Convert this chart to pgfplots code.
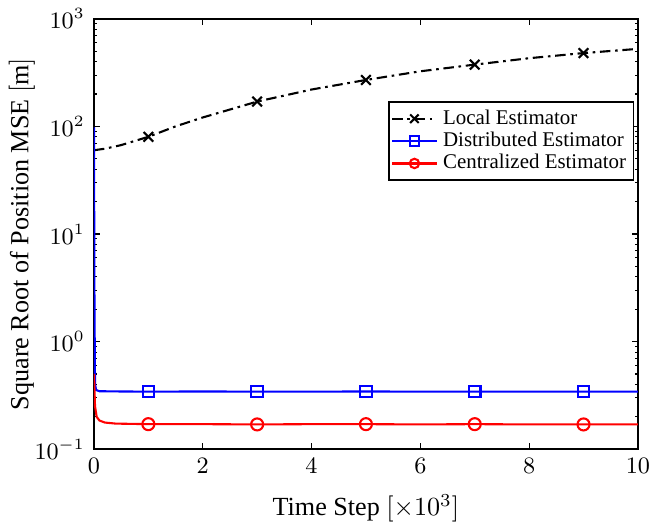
\documentclass[border=0pt]{standalone}
\usepackage{fontspec}
\setmainfont{Liberation Serif}
\usepackage{pgfplots}
\pgfplotsset{compat=1.18}

\pgfplotstableread{
x y
0 60
0.2 62
0.5 67
1 80
1.5 100
2 121
3 170
4 220
5 270
6 325
7 375
8 430
9 480
10 525
}\localdata

\pgfplotstableread{
x y
0 98
0.01 2
0.02 0.40
0.04 0.355
0.1 0.346
0.5 0.344
1 0.343
2 0.344
3 0.343
4 0.343
5 0.344
6 0.343
7 0.343
8 0.343
9 0.343
10 0.343
}\distdata

\pgfplotstableread{
x y
0 0.50
0.02 0.25
0.05 0.20
0.1 0.185
0.2 0.177
0.4 0.173
1 0.171
2 0.171
3 0.170
4 0.171
5 0.171
6 0.170
7 0.171
8 0.170
9 0.170
10 0.170
}\centdata

\begin{document}
\begin{tikzpicture}
\begin{axis}[
    scale only axis,
    width=208pt,
    height=164.6pt,
    ymode=log,
    xmin=0, xmax=10,
    ymin=0.1, ymax=1000,
    xtick={0,2,...,10},
    ytick={0.1,1,10,100,1000},
    tick align=inside,
    major tick length=2.2pt,
    minor tick length=1.3pt,
    axis line style={line width=0.6pt},
    every tick/.style={black, line width=0.4pt},
    tick label style={font=\fontsize{8.6}{10}\selectfont},
    x tick label style={inner xsep=0pt},
    xlabel={Time Step $[\times 10^3]$},
    ylabel={Square Root of Position MSE $[\mathrm{m}]$},
    xlabel style={yshift=-3.5pt, inner ysep=1pt},
    ylabel style={yshift=-7pt},
    legend cell align=left,
    legend style={at={(0.541,0.808)}, anchor=north west, draw=black, line width=0.6pt,
        inner sep=0.8pt, row sep=-2.5pt, font=\fontsize{8}{9.5}\selectfont},
]
\addplot[black, line width=0.8pt, dash pattern=on 4pt off 1.8pt on 1pt off 1.8pt,
    mark=x, mark size=2.6pt, mark options={solid, line width=0.8pt},
    mark indices={4,7,9,11,13}, forget plot] table {\localdata};
\addplot[blue, line width=0.8pt, mark=square, mark size=2.2pt,
    mark options={solid, line width=0.8pt},
    mark indices={7,9,11,13,15}, forget plot] table {\distdata};
\addplot[red, line width=0.8pt, mark=o, mark size=2.3pt,
    mark options={solid, line width=0.8pt},
    mark indices={7,9,11,13,15}, forget plot] table {\centdata};
\addlegendimage{black, line width=0.8pt, dash pattern=on 4pt off 1.8pt on 1pt off 1.8pt,
    mark=x, mark size=2.3pt, mark options={solid, line width=0.8pt}}
\addlegendentry{Local Estimator}
\addlegendimage{blue, line width=0.8pt, mark=square, mark size=1.8pt,
    mark options={solid, line width=0.8pt}}
\addlegendentry{Distributed Estimator}
\addlegendimage{red, line width=0.8pt, mark=o, mark size=1.8pt,
    mark options={solid, line width=0.8pt}}
\addlegendentry{Centralized Estimator}
\end{axis}
\end{tikzpicture}
\end{document}
